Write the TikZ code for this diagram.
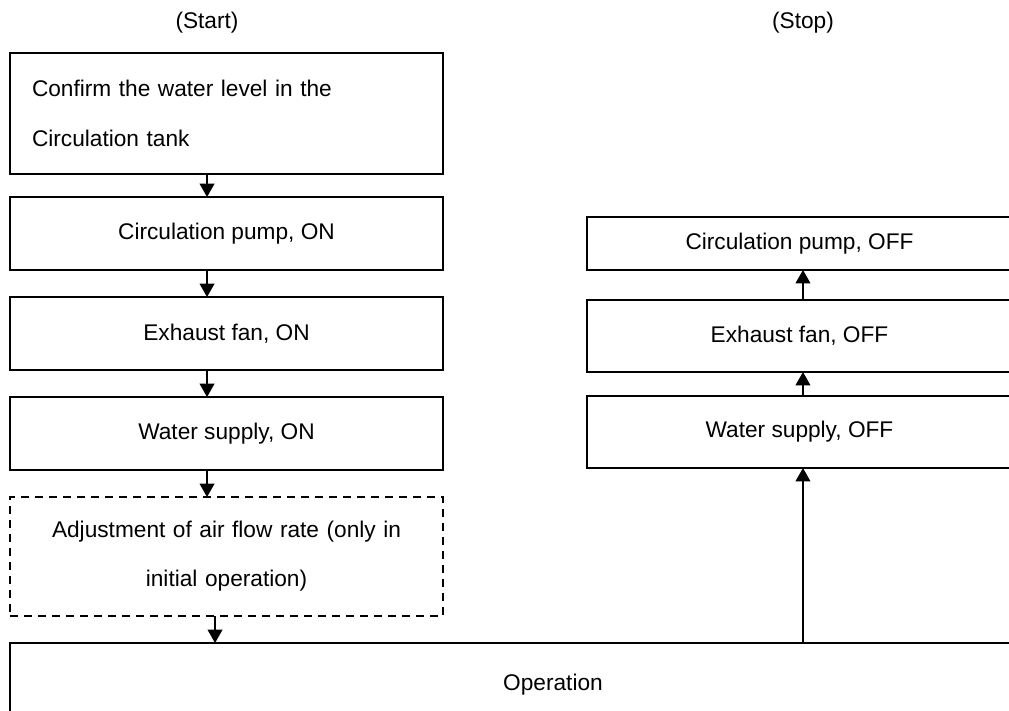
\documentclass[tikz,border=0pt]{standalone}
\usepackage{fontspec}
\setmainfont{Liberation Sans}
\usetikzlibrary{positioning,arrows.meta}

\begin{document}
\begin{tikzpicture}[x=0.75pt,y=-0.75pt,node distance=20.25pt,
    font=\fontsize{17pt}{20pt}\selectfont,
    stage/.style={draw,line width=1.3pt,minimum width=324.75pt,minimum height=54.75pt,
      inner sep=0pt,outer sep=0pt},
    stopstage/.style={stage,minimum width=318.75pt,minimum height=54pt},
    flow/.style={-{Triangle[width=11pt,length=10pt]},line width=1.3pt}]

  \useasboundingbox (0,0) rectangle (1009,710);
  \clip (0,0) rectangle (1009,710);

  % Headings
  \node (start) at (207,23) {(Start)};
  \node (stop) at (803,23) {(Stop)};

  % Start sequence
  \node[stage,anchor=north west,minimum height=90.75pt,text width=291.75pt,inner xsep=16.5pt,
    align=left,font=\fontsize{17pt}{37.5pt}\selectfont] (level) at (10,53)
    {Confirm the water level in the\\Circulation tank};
  \node[stage] (pumpon) [below=17.25pt of level] {Circulation pump, ON};
  \node[stage] (fanon) [below=of pumpon] {Exhaust fan, ON};
  \node[stage] (wateron) [below=of fanon] {Water supply, ON};
  \node[stage,dash pattern=on 6pt off 4.5pt,minimum height=89.25pt,text width=324.75pt,
    align=center,font=\fontsize{17pt}{36.75pt}\selectfont] (airflow) [below=of wateron]
    {Adjustment of air flow rate (only in\\initial operation)};
  \node[stage,minimum width=814.5pt,minimum height=63pt] (operation)
    [below=20.25pt of airflow.south west,anchor=north west] {Operation};

  % Stop sequence
  \node[stopstage,anchor=north west,minimum height=39.75pt] (pumpoff) at (587,217) {Circulation pump, OFF};
  \node[stopstage] (fanoff) [below=22.5pt of pumpoff] {Exhaust fan, OFF};
  \node[stopstage] (wateroff) [below=18pt of fanoff] {Water supply, OFF};

  % Start arrows
  \draw[flow] ([xshift=-14.6pt]level.south) -- ([xshift=-14.6pt]pumpon.north);
  \draw[flow] ([xshift=-14.6pt]pumpon.south) -- ([xshift=-14.6pt]fanon.north);
  \draw[flow] ([xshift=-14.6pt]fanon.south) -- ([xshift=-14.6pt]wateron.north);
  \draw[flow] ([xshift=-14.6pt]wateron.south) -- ([xshift=-14.6pt]airflow.north);
  \draw[flow] ([xshift=-8.6pt]airflow.south) -- ([xshift=-8.6pt]airflow.south |- operation.north);

  % Stop arrows
  \draw[flow] ([xshift=2.6pt]wateroff.south |- operation.north) -- ([xshift=2.6pt]wateroff.south);
  \draw[flow] ([xshift=2.6pt]wateroff.north) -- ([xshift=2.6pt]fanoff.south);
  \draw[flow] ([xshift=2.6pt]fanoff.north) -- ([xshift=2.6pt]pumpoff.south);

\end{tikzpicture}
\end{document}
